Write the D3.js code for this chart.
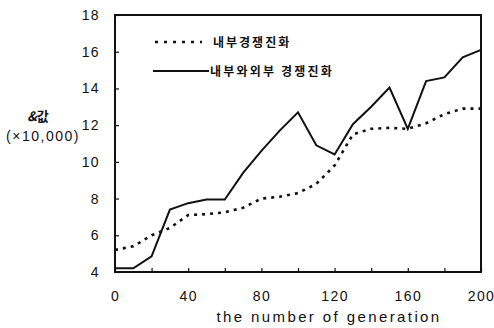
<!DOCTYPE html>
<html>
<head>
<meta charset="utf-8">
<script src="https://cdn.jsdelivr.net/npm/d3@7"></script>
<style>
  body { margin: 0; background: #fff; }
  text { font-family: "Liberation Sans", Arial, sans-serif; fill: #111; }
  .kr { font-family: "Noto Sans CJK KR", sans-serif; }
</style>
</head>
<body>
<div id="chart"></div>
<script>
// generations on the x axis
let generations = [0, 10, 20, 30, 40, 50, 60, 70, 80, 90, 100, 110, 120, 130, 140, 150, 160, 170, 180, 190, 200];
// 내부경쟁진화 (dotted)
let internal = [5.2, 5.4, 6.0, 6.4, 7.1, 7.15, 7.25, 7.5, 8.0, 8.1, 8.3, 8.8, 9.8, 11.5, 11.8, 11.85, 11.8, 12.1, 12.6, 12.9, 12.9];
// 내부와외부 경쟁진화 (solid)
let both = [4.2, 4.2, 4.85, 7.4, 7.75, 7.95, 7.95, 9.4, 10.6, 11.7, 12.7, 10.9, 10.4, 12.05, 13.0, 14.05, 11.8, 14.4, 14.6, 15.7, 16.1];
let xTicks = [0, 40, 80, 120, 160, 200];
let xMinor = [0, 20, 40, 60, 80, 100, 120, 140, 160, 180, 200];
let yTicks = [4, 6, 8, 10, 12, 14, 16, 18];
let legendLabels = ["내부경쟁진화", "내부와외부 경쟁진화"];

let total_width = 494, total_height = 328;
let plotLeft = 115, plotRight = 481, plotTop = 15, plotBottom = 272;

var x = d3.scaleLinear().domain([0, 200]).range([plotLeft, plotRight]);
var y = d3.scaleLinear().domain([4, 18]).range([plotBottom, plotTop]);

var svg = d3.select("#chart").append("svg")
    .attr("width", total_width)
    .attr("height", total_height);

// frame
svg.append("rect")
  .attr("x", plotLeft).attr("y", plotTop)
  .attr("width", plotRight - plotLeft).attr("height", plotBottom - plotTop)
  .attr("fill", "none").attr("stroke", "#111").attr("stroke-width", 2);

// x axis (ticks inward)
svg.append("g")
  .attr("transform", "translate(0," + plotBottom + ")")
  .call(d3.axisBottom(x).tickValues(xMinor).tickSize(-4).tickFormat(""))
  .call(g => g.select(".domain").remove())
  .call(g => g.selectAll("line").attr("stroke", "#111").attr("stroke-width", 1.2));
svg.append("g")
  .attr("transform", "translate(0," + plotBottom + ")")
  .call(d3.axisBottom(x).tickValues(xTicks).tickSize(0).tickPadding(19))
  .call(g => g.select(".domain").remove())
  .call(g => g.selectAll("text").attr("font-size", 14).attr("fill", "#111")
    .attr("letter-spacing", 1.4)
    .attr("font-family", "Liberation Sans, Arial, sans-serif"));

// y axis
svg.append("g")
  .attr("transform", "translate(" + plotLeft + ",0)")
  .call(d3.axisLeft(y).tickValues(yTicks).tickSize(-4).tickPadding(15))
  .call(g => g.select(".domain").remove())
  .call(g => g.selectAll("line").attr("stroke", "#111").attr("stroke-width", 1.2))
  .call(g => g.selectAll("text").attr("font-size", 14).attr("fill", "#111")
    .attr("letter-spacing", 1.4)
    .attr("font-family", "Liberation Sans, Arial, sans-serif"));

var line = d3.line().x((d, i) => x(generations[i])).y(d => y(d));

svg.append("path")
  .datum(internal)
  .attr("d", line)
  .attr("fill", "none").attr("stroke", "#111")
  .attr("stroke-width", 2.6)
  .attr("stroke-dasharray", "3,5");

svg.append("path")
  .datum(both)
  .attr("d", line)
  .attr("fill", "none").attr("stroke", "#111")
  .attr("stroke-width", 2)
  .attr("stroke-linejoin", "miter");

// legend
svg.append("line")
  .attr("x1", 155).attr("x2", 202).attr("y1", 42).attr("y2", 42)
  .attr("stroke", "#111").attr("stroke-width", 2.6).attr("stroke-dasharray", "3,6");
svg.append("text").attr("class", "kr")
  .attr("x", 213).attr("y", 46.5)
  .attr("font-size", 12).attr("font-weight", "bold").attr("letter-spacing", 2)
  .text(legendLabels[0]);
svg.append("line")
  .attr("x1", 153).attr("x2", 209).attr("y1", 71).attr("y2", 71)
  .attr("stroke", "#111").attr("stroke-width", 2);
svg.append("text").attr("class", "kr")
  .attr("x", 210).attr("y", 75.5)
  .attr("font-size", 12).attr("font-weight", "bold").attr("letter-spacing", 2.2)
  .text(legendLabels[1]);

// axis titles
var yl = svg.append("text").attr("class", "kr")
  .attr("x", 38).attr("y", 121)
  .attr("text-anchor", "middle")
  .attr("font-size", 13).attr("font-weight", "bold");
yl.append("tspan").attr("font-style", "italic").text("&");
yl.append("tspan").text("값");

svg.append("text")
  .attr("x", 43).attr("y", 141)
  .attr("text-anchor", "middle")
  .attr("font-size", 14).attr("letter-spacing", 1.5)
  .text("(×10,000)");

svg.append("text")
  .attr("x", 329).attr("y", 322)
  .attr("text-anchor", "middle")
  .attr("font-size", 15).attr("letter-spacing", 2.4)
  .text("the number of generation");
</script>
</body>
</html>
